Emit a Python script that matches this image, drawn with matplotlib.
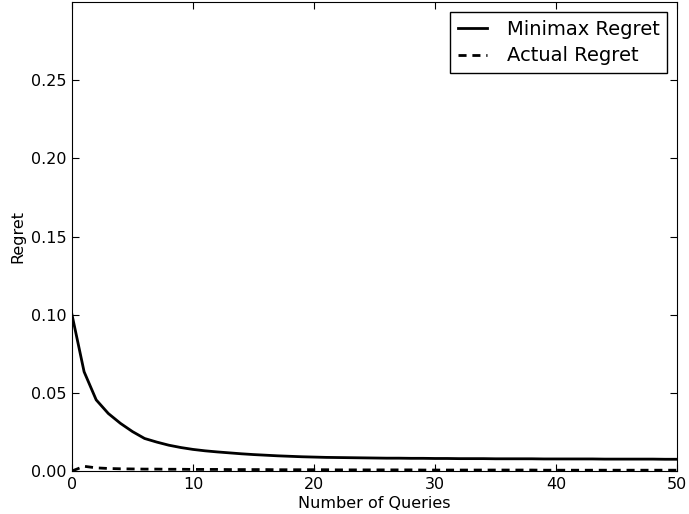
import numpy as np
import matplotlib.pyplot as plt

queries = np.arange(0, 51)
minimax = [0.100, 0.0635, 0.0455, 0.0368, 0.0305, 0.0252, 0.0208, 0.0185, 0.0165, 0.0150,
           0.0138, 0.0129, 0.0122, 0.0116, 0.0110, 0.0105, 0.0101, 0.0097, 0.0094, 0.0091,
           0.0089, 0.0087, 0.0086, 0.0085, 0.0084, 0.0083, 0.0082, 0.0082, 0.0081, 0.0081,
           0.0080, 0.0080, 0.0079, 0.0079, 0.0079, 0.0078, 0.0078, 0.0078, 0.0078, 0.0077,
           0.0077, 0.0077, 0.0077, 0.0077, 0.0076, 0.0076, 0.0076, 0.0076, 0.0076, 0.0075,
           0.0075]
actual = [0.0000, 0.0030, 0.0020, 0.0016, 0.0014, 0.0013, 0.0012, 0.0012, 0.0011, 0.0011,
          0.0010, 0.0010, 0.0010, 0.0009, 0.0009, 0.0009, 0.0009, 0.0008, 0.0008, 0.0008,
          0.0008, 0.0008, 0.0007, 0.0007, 0.0007, 0.0007, 0.0007, 0.0007, 0.0007, 0.0006,
          0.0006, 0.0006, 0.0006, 0.0006, 0.0006, 0.0006, 0.0006, 0.0006, 0.0006, 0.0005,
          0.0005, 0.0005, 0.0005, 0.0005, 0.0005, 0.0005, 0.0005, 0.0005, 0.0005, 0.0005,
          0.0005]

fig = plt.figure(figsize=(6.89, 5.14), dpi=100)
ax = fig.add_axes([0.1045, 0.0837, 0.878, 0.912])

ax.plot(queries, minimax, 'k-', lw=2, label='Minimax Regret')
ax.plot(queries, actual, color='k', ls=(0, (2.9, 2.1)), lw=2, label='Actual Regret')

ax.set_xlim(0, 50)
ax.set_ylim(0, 0.30)
ax.set_yticks([0.0, 0.05, 0.10, 0.15, 0.20, 0.25])
ax.set_yticklabels(['0.00', '0.05', '0.10', '0.15', '0.20', '0.25'])
ax.tick_params(direction='in', top=True, right=True, labelsize=11.5, length=5, pad=4)
ax.set_xlabel('Number of Queries', fontsize=11.5, labelpad=3)
ax.set_ylabel('Regret', fontsize=11.5)

leg = ax.legend(loc='upper right', fontsize=14, fancybox=False, framealpha=1,
                edgecolor='black', handlelength=1.5, handletextpad=1.0,
                labelspacing=0.4, borderpad=0.4, borderaxespad=0.5)
leg.get_frame().set_linewidth(1)

fig.savefig('out.png', dpi=100)
